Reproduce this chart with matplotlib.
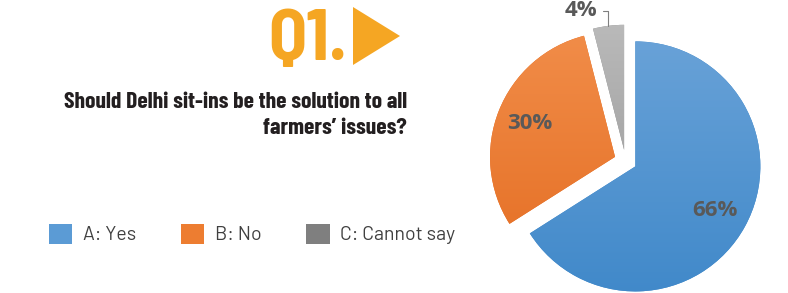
import numpy as np
import matplotlib
matplotlib.use('Agg')
import matplotlib.pyplot as plt
from matplotlib.patches import Polygon, Rectangle
from matplotlib.colors import LinearSegmentedColormap

# Data
labels = ['A: Yes', 'B: No', 'C: Cannot say']
values = [66, 30, 4]
explode = [0.09, 0.09, 0.09]
grad_top = ['#6fa6da', '#f3914e', '#bdbdbd']
grad_bottom = ['#3c86c8', '#e2681c', '#8e8e8e']
legend_colors = ['#5b9bd5', '#ed7d31', '#7f7f7f']

W, H = 788, 293
fig = plt.figure(figsize=(W / 100, H / 100), dpi=100)

# pie axes covering the whole figure, 125 px per data unit
R = 125.0
cx, cy = 625.5, 161.0
ax = fig.add_axes([0, 0, 1, 1])
pct_font = ['Open Sans', 'DejaVu Sans']
wedges, texts, autotexts = ax.pie(values, explode=explode, startangle=90, counterclock=False,
                                  autopct='%1.0f%%', pctdistance=0.73,
                                  textprops=dict(color='#595959', fontsize=16, fontweight='bold',
                                                 family=pct_font))
ax.set_xlim(-cx / R, (W - cx) / R)
ax.set_ylim((cy - H) / R, cy / R)
ax.set_aspect('auto')
ax.axis('off')

# vertical gradient fill for each slice
for w, c1, c2 in zip(wedges, grad_top, grad_bottom):
    w.set_facecolor(c2)
    w.set_edgecolor('none')
    cmap = LinearSegmentedColormap.from_list('g', [c2, c1])
    grad = np.linspace(0, 1, 256).reshape(-1, 1)
    im = ax.imshow(grad, cmap=cmap, origin='lower', extent=(-1.3, 1.3, -1.3, 1.3),
                   aspect='auto', zorder=w.get_zorder() + 0.1)
    im.set_clip_path(w)

for t in autotexts:
    t.set_zorder(5)

# small slice label moved outside with a leader line
small = autotexts[2]
small.set_visible(False)
w = wedges[2]
mid = np.deg2rad((w.theta1 + w.theta2) / 2)
tip = (w.center[0] + w.r * np.cos(mid), w.center[1] + w.r * np.sin(mid))
ax.annotate(small.get_text(), xy=tip, xytext=(-20, 11), textcoords='offset points',
            ha='center', va='center', color='#595959', fontsize=16, fontweight='bold',
            family=pct_font, zorder=5,
            arrowprops=dict(arrowstyle='-', color='#7f7f7f', lw=0.8,
                            connectionstyle='angle,angleA=0,angleB=90,rad=0',
                            shrinkA=2, shrinkB=0))

# title block
cond = ['Barlow Condensed', 'DejaVu Sans']
fig.text(347 / W, 1 - 60 / H, 'Q1.', ha='right', va='baseline', fontsize=52,
         fontweight='bold', color='#f5a623', family=['Barlow Semi Condensed', 'DejaVu Sans'])
tri = Polygon([[353 / W, 1 - 7 / H], [353 / W, 1 - 65 / H], [400 / W, 1 - 36 / H]],
              closed=True, transform=fig.transFigure, facecolor='#f5a623', edgecolor='none')
fig.patches.append(tri)

fig.text(407 / W, 1 - 108 / H, 'Should Delhi sit-ins be the solution to all',
         ha='right', va='baseline', fontsize=17, fontweight='bold', color='#231f20', family=cond)
fig.text(407 / W, 1 - 134 / H, 'farmers\u2019 issues?',
         ha='right', va='baseline', fontsize=17, fontweight='bold', color='#231f20', family=cond)

# legend
handles = [Rectangle((0, 0), 1, 1, facecolor=c, edgecolor='none') for c in legend_colors]
fig.legend(handles, labels, loc='center left', bbox_to_anchor=(49 / W, 1 - 234 / H),
           ncol=3, frameon=False, handlelength=1.2, handleheight=1.2,
           handletextpad=0.55, columnspacing=2.3, borderpad=0, borderaxespad=0,
           labelcolor='#404040', prop=dict(family=['Barlow', 'DejaVu Sans'], size=14))

fig.savefig('out.png', dpi=100)
